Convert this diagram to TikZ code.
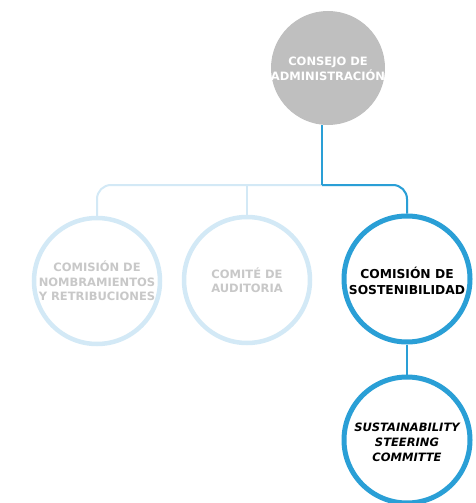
\documentclass[tikz,border=0pt]{standalone}
\usepackage{fontspec}
\setmainfont{DejaVu Sans}
\usetikzlibrary{backgrounds}
\definecolor{topgray}{HTML}{BFBFBF}
\definecolor{paletxt}{HTML}{C8C8C8}
\definecolor{paleblue}{HTML}{D3E9F6}
\definecolor{strongblue}{HTML}{2A9FD6}
\begin{document}
\begin{tikzpicture}[x=1pt,y=-1pt,
  topcirc/.style={circle,fill=topgray,minimum size=114pt,inner sep=0pt},
  palecirc/.style={circle,draw=paleblue,line width=4.5pt,fill=white,minimum size=126pt,inner sep=0pt},
  bluecirc/.style={circle,draw=strongblue,line width=5pt,fill=white,minimum size=126pt,inner sep=0pt},
  lbl/.style={align=center,font=\bfseries\fontsize{11.5}{14.5}\selectfont,inner sep=0pt},
  paleline/.style={draw=paleblue,line width=2pt},
  blueline/.style={draw=strongblue,line width=2pt},
]
\useasboundingbox (0,0) rectangle (475,503);
\node[topcirc] (top) at (328,68) {};
\node[lbl,text=white] (toptxt) at (328,69) {CONSEJO DE\\ADMINISTRACIÓN};
\node[palecirc] (left) at (97,281) {};
\node[lbl,text=paletxt] (lefttxt) at (97,281) {COMISIÓN DE\\NOMBRAMIENTOS\\Y RETRIBUCIONES};
\node[palecirc] (mid) at (247,280) {};
\node[lbl,text=paletxt] (midtxt) at (247,280) {COMITÉ DE\\AUDITORIA};
\node[bluecirc] (right) at (407,279) {};
\node[lbl,text=black,font=\bfseries\fontsize{12.3}{16}\selectfont] (righttxt) at (407,281) {COMISIÓN DE\\SOSTENIBILIDAD};
\node[bluecirc] (bottom) at (407,440) {};
\node[lbl,text=black,font=\bfseries\itshape\fontsize{11.5}{15}\selectfont] (bottomtxt) at (407,442) {SUSTAINABILITY\\STEERING\\COMMITTE};
\coordinate (drop) at (322,185);
\begin{scope}[on background layer]
  \draw[paleline,rounded corners=14pt] (left.north) |- (mid.north |- drop) -| (right.north);
  \draw[paleline] (mid.north) -- (mid.north |- drop);
  \draw[blueline] (top.south -| drop) -- (drop);
  \draw[blueline,rounded corners=14pt] (drop) -| (right.north);
  \draw[blueline] (right.south) -- (bottom.north);
\end{scope}
\end{tikzpicture}
\end{document}
